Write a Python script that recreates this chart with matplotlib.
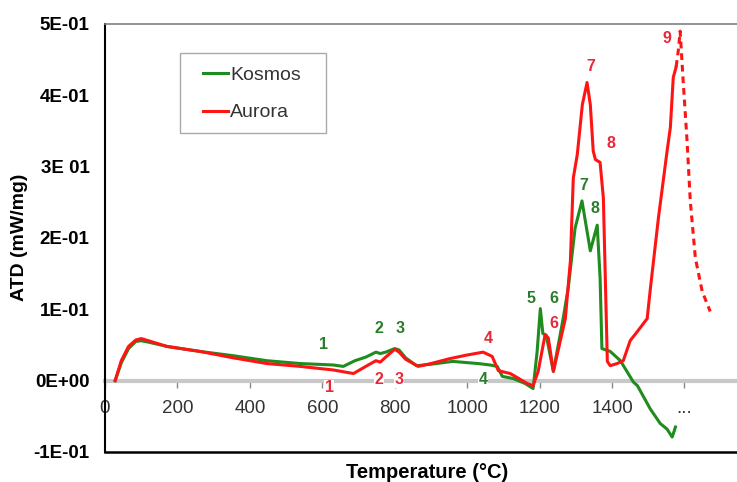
import matplotlib
matplotlib.use("Agg")
import matplotlib.pyplot as plt
from matplotlib.patches import Rectangle

plt.rcParams['font.family'] = ['Liberation Sans', 'DejaVu Sans']

# Kosmos (green) DTA curve
kosmos_t = [28, 45, 65, 85, 100, 120, 171, 262, 354, 447, 539, 630, 658,
            690, 720, 748, 760, 775, 800, 812, 830, 860, 900, 960, 1030,
            1063, 1083, 1097, 1127, 1160, 1182, 1193, 1202, 1209, 1218,
            1238, 1265, 1279, 1298, 1317, 1340, 1359, 1367, 1372, 1395,
            1423, 1459, 1470, 1506, 1533, 1552, 1566, 1572, 1575]
kosmos_y = [0.0, 0.025, 0.045, 0.055, 0.056, 0.054, 0.048, 0.041, 0.035,
            0.028, 0.024, 0.022, 0.020, 0.028, 0.033, 0.040, 0.038, 0.040,
            0.045, 0.043, 0.032, 0.021, 0.023, 0.027, 0.024, 0.022, 0.020,
            0.006, 0.003, -0.004, -0.011, 0.040, 0.101, 0.066, 0.064,
            0.013, 0.087, 0.130, 0.214, 0.252, 0.182, 0.218, 0.144, 0.045,
            0.041, 0.028, -0.002, -0.007, -0.040, -0.060, -0.068, -0.079,
            -0.070, -0.065]

# Aurora (red) DTA curve, measured part
aurora_t = [28, 45, 65, 85, 100, 120, 171, 262, 354, 447, 539, 630, 686,
            720, 748, 760, 775, 800, 812, 830, 865, 900, 953, 1000, 1044,
            1069, 1086, 1119, 1166, 1182, 1196, 1215, 1224, 1238, 1271,
            1285, 1293, 1304, 1318, 1331, 1340, 1348, 1354, 1367, 1376,
            1387, 1395, 1414, 1431, 1450, 1470, 1497, 1506, 1528, 1552,
            1561, 1569, 1577]
aurora_y = [0.0, 0.028, 0.048, 0.057, 0.059, 0.056, 0.048, 0.041, 0.032,
            0.024, 0.020, 0.015, 0.010, 0.020, 0.028, 0.026, 0.033, 0.044,
            0.040, 0.030, 0.020, 0.024, 0.031, 0.036, 0.040, 0.034, 0.014,
            0.010, -0.004, -0.007, 0.013, 0.064, 0.060, 0.013, 0.087,
            0.168, 0.284, 0.317, 0.387, 0.418, 0.387, 0.322, 0.310, 0.306,
            0.256, 0.027, 0.021, 0.024, 0.028, 0.056, 0.069, 0.087, 0.130,
            0.228, 0.322, 0.355, 0.425, 0.440]

# Aurora extrapolated part (dashed)
aurora_ext_t = [1577, 1583, 1588, 1597, 1607, 1616, 1630, 1649, 1671]
aurora_ext_y = [0.440, 0.463, 0.490, 0.415, 0.337, 0.252, 0.172, 0.125, 0.097]

# peak labels
kosmos_lbl = ['1', '2', '3', '4', '5', '6', '7', '8']
kosmos_lbl_t = [602, 757, 815, 1044, 1177, 1240, 1323, 1354]
kosmos_lbl_y = [0.051, 0.073, 0.073, 0.001, 0.115, 0.115, 0.273, 0.242]
aurora_lbl = ['1', '2', '3', '4', '6', '7', '8', '9']
aurora_lbl_t = [619, 757, 812, 1058, 1238, 1340, 1398, 1552]
aurora_lbl_y = [-0.010, 0.001, 0.001, 0.059, 0.080, 0.440, 0.332, 0.479]

x_ticks = [0, 200, 400, 600, 800, 1000, 1200, 1400, 1600]
x_labels = ['0', '200', '400', '600', '800', '1000', '1200', '1400', '...']
y_ticks = [-0.1, 0.0, 0.1, 0.2, 0.3, 0.4, 0.5]
y_labels = ['-1E-01', '0E+00', '1E-01', '2E-01', '3E 01', '4E-01', '5E-01']

GREEN = '#1e8c1e'
RED = '#ff1414'
GREEN_TXT = '#2b7d2b'
RED_TXT = '#e8283a'

W, H = 737, 482
fig = plt.figure(figsize=(W / 100, H / 100), dpi=100)
ax = fig.add_axes([105 / W, 1 - 452 / H, 1 - 105 / W, 428 / H])

ln_k, = ax.plot(kosmos_t, kosmos_y, color=GREEN, lw=2.2, label='Kosmos',
                solid_joinstyle='round', zorder=4)
ln_a, = ax.plot(aurora_t, aurora_y, color=RED, lw=2.2, label='Aurora',
                solid_joinstyle='round', zorder=5)
ax.plot(aurora_ext_t, aurora_ext_y, color=RED, lw=2.2, ls=(0, (2.2, 1.6)),
        zorder=5)

for s, t, y in zip(kosmos_lbl, kosmos_lbl_t, kosmos_lbl_y):
    ax.text(t, y, s, color=GREEN_TXT, fontsize=11.5, fontweight='bold',
            ha='center', va='center', zorder=6,
            bbox=dict(fc='white', ec='none', pad=0.5) if abs(y) < 0.01 else None)
for s, t, y in zip(aurora_lbl, aurora_lbl_t, aurora_lbl_y):
    ax.text(t, y, s, color=RED_TXT, fontsize=11.5, fontweight='bold',
            ha='center', va='center', zorder=6,
            bbox=dict(fc='white', ec='none', pad=0.5) if abs(y) < 0.015 else None)

ax.set_xlim(0, 1745)
ax.set_ylim(-0.1, 0.5)

# x axis crosses at zero
ax.spines['bottom'].set_position(('data', 0))
ax.spines['bottom'].set_color('#c8c8c8')
ax.spines['bottom'].set_linewidth(3)
ax.spines['bottom'].set_zorder(2)
ax.spines['left'].set_color('black')
ax.spines['left'].set_linewidth(1.5)
ax.spines['top'].set_color('#808080')
ax.spines['top'].set_linewidth(1.2)
ax.spines['right'].set_visible(False)
ax.axhline(-0.1, color='black', lw=1.8, clip_on=False)

ax.set_xticks(x_ticks)
ax.set_xticklabels(x_labels, fontsize=13.5, color='#333333')
ax.tick_params(axis='x', length=5, width=1, color='#888888', pad=9)
ax.set_yticks(y_ticks)
ax.set_yticklabels(y_labels, fontsize=13.5, fontweight='bold')
ax.tick_params(axis='y', length=0, pad=11)

ax.set_xlabel('Temperature (°C)', fontsize=14.5, fontweight='bold')
ax.xaxis.set_label_coords(0.509, -0.026)
ax.set_ylabel('ATD (mW/mg)', fontsize=14, fontweight='bold')
ax.yaxis.set_label_coords(-0.122, 0.502)

# legend: frame drawn separately so the box matches the original proportions
ax.add_patch(Rectangle((180 / W, 1 - 133 / H), 146 / W, 80 / H,
                       transform=fig.transFigure, fc='white',
                       ec='#aaaaaa', lw=1, zorder=7, clip_on=False))
leg = ax.legend(handles=[ln_k, ln_a], loc='center left',
                bbox_to_anchor=(203 / W, 1 - 94 / H),
                bbox_transform=fig.transFigure, fontsize=14,
                frameon=False, handlelength=1.3, handletextpad=0.1,
                borderpad=0, labelspacing=1.0, borderaxespad=0)
leg.set_zorder(8)
for txt in leg.get_texts():
    txt.set_color('#333333')

fig.savefig('out.png', dpi=100)
